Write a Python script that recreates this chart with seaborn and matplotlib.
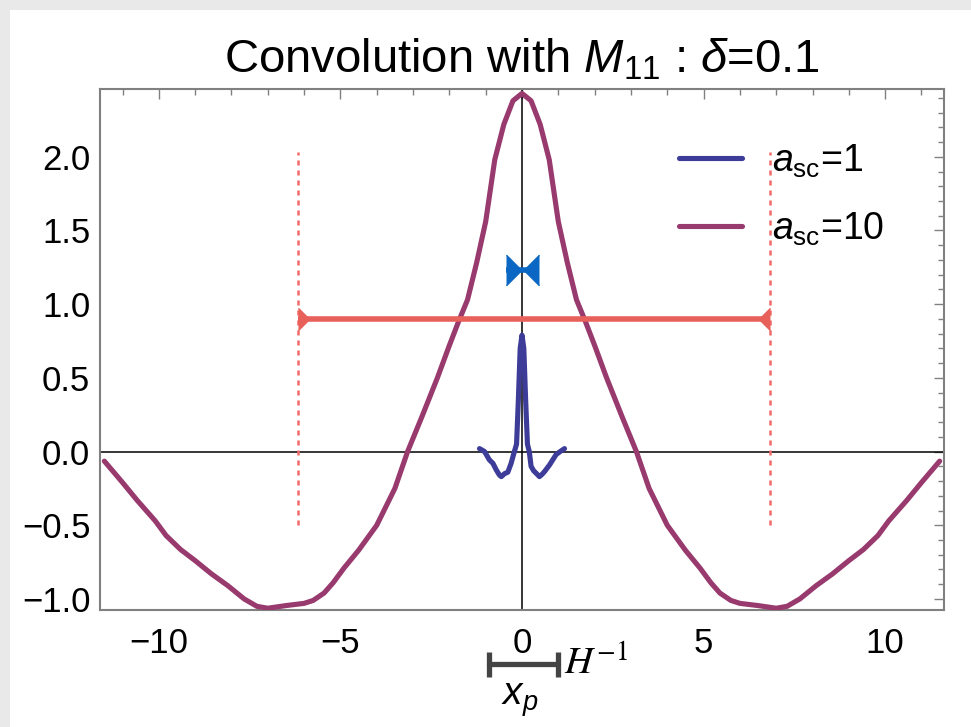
import numpy as np
import pandas as pd
import matplotlib
matplotlib.use("Agg")
import matplotlib.pyplot as plt
import seaborn as sns
from matplotlib.patches import Rectangle
from matplotlib.ticker import MultipleLocator

# curve for a_sc = 10
x_10 = [-11.5, -11.0, -10.6, -10.1, -9.8, -9.4, -9.0, -8.55, -8.1, -7.65, -7.3, -7.0, -6.5,
        -6.0, -5.75, -5.45, -5.2, -4.9, -4.5, -4.0, -3.5, -3.15, -2.75, -2.33, -2.0, -1.75,
        -1.5, -1.25, -1.0, -0.75, -0.5, -0.25, 0.0,
        0.25, 0.5, 0.75, 1.0, 1.25, 1.5, 1.75, 2.0, 2.33, 2.75, 3.15, 3.5, 4.0, 4.5, 4.9,
        5.2, 5.45, 5.75, 6.0, 6.5, 7.0, 7.3, 7.65, 8.1, 8.55, 9.0, 9.4, 9.8, 10.1, 10.6,
        11.0, 11.5]
y_10 = [-0.065, -0.21, -0.33, -0.47, -0.57, -0.665, -0.74, -0.83, -0.91, -1.0, -1.05, -1.063,
        -1.045, -1.03, -1.01, -0.96, -0.89, -0.79, -0.67, -0.5, -0.25, 0.0, 0.24, 0.5, 0.72,
        0.88, 1.03, 1.28, 1.56, 1.98, 2.22, 2.38, 2.43,
        2.38, 2.22, 1.98, 1.56, 1.28, 1.03, 0.88, 0.72, 0.5, 0.24, 0.0, -0.25, -0.5, -0.67,
        -0.79, -0.89, -0.96, -1.01, -1.03, -1.045, -1.063, -1.05, -1.0, -0.91, -0.83, -0.74,
        -0.665, -0.57, -0.47, -0.33, -0.21, -0.065]

# curve for a_sc = 1
x_1 = [-1.17, -1.03, -0.9, -0.8, -0.71, -0.62, -0.57, -0.48, -0.39, -0.3, -0.21, -0.15, -0.1,
       -0.05, 0.0, 0.05, 0.1, 0.15, 0.2, 0.25, 0.32, 0.39, 0.48, 0.55, 0.62, 0.76, 0.94, 1.05, 1.17]
y_1 = [0.02, 0.0, -0.056, -0.08, -0.124, -0.16, -0.17, -0.15, -0.14, -0.08, 0.0, 0.05, 0.35,
       0.7, 0.79, 0.7, 0.35, 0.05, 0.0, -0.10, -0.13, -0.147, -0.17, -0.155, -0.136, -0.09,
       -0.02, 0.0, 0.02]

# width bars
red_bar = [-6.16, 6.82]
red_y = 0.9
red_dot_y = [-0.5, 2.03]
blue_bar = [-0.435, 0.46]
blue_y = 1.23
scale_bar = [-0.9, 1.0]
scale_y = -1.44

df = pd.concat([
    pd.DataFrame({"x": x_1, "y": y_1, "a": r"$a_{\rm sc}$=1"}),
    pd.DataFrame({"x": x_10, "y": y_10, "a": r"$a_{\rm sc}$=10"}),
])

sns.set_theme(style="white")
plt.rcParams["font.family"] = ["Liberation Sans", "DejaVu Sans"]
plt.rcParams["mathtext.fontset"] = "custom"
plt.rcParams["mathtext.rm"] = "Liberation Sans"
plt.rcParams["mathtext.it"] = "Liberation Sans:italic"
plt.rcParams["text.color"] = "black"

fig = plt.figure(figsize=(9.71, 7.27), dpi=100, facecolor="#e9e9e9")
fig.patches.append(Rectangle((10 / 971, 0), 1, 1 - 10 / 727, transform=fig.transFigure,
                             facecolor="white", edgecolor="none", zorder=-10))
ax = fig.add_axes([100 / 971, 1 - 610 / 727, 844 / 971, 521 / 727])
ax.set_zorder(1)

# axes through origin
ax.axhline(0, color="black", lw=1.1, zorder=1)
ax.axvline(0, color="black", lw=1.1, zorder=1)

sns.lineplot(data=df, x="x", y="y", hue="a", palette=["#3d3d99", "#983a6e"],
             estimator=None, sort=False, lw=3.7, ax=ax, zorder=3)
for ln in ax.lines[2:]:
    ln.set_solid_joinstyle("round")

# red width marker
red = "#e8605a"
ax.plot(red_bar, [red_y, red_y], color=red, lw=4, zorder=4, solid_capstyle="butt")
ax.plot(red_bar[0], red_y, marker=[(0, -1), (1, 0), (0, 1)], ms=16, color=red, zorder=4)
ax.plot(red_bar[1], red_y, marker=[(0, -1), (-1, 0), (0, 1)], ms=16, color=red, zorder=4)
for xv in red_bar:
    ax.plot([xv, xv], red_dot_y, color="#f06a66", lw=1.8, ls=(0, (2, 2)), zorder=2)

# blue width marker
blue = "#0a68c4"
ax.plot(blue_bar, [blue_y, blue_y], color=blue, lw=4, zorder=4, solid_capstyle="butt")
ax.plot(blue_bar[0], blue_y, marker=[(0, -1), (1, 0), (0, 1)], ms=22, color=blue, zorder=4)
ax.plot(blue_bar[1], blue_y, marker=[(0, -1), (-1, 0), (0, 1)], ms=22, color=blue, zorder=4)

# scale bar below the axis
ax.plot(scale_bar, [scale_y, scale_y], color="#444444", lw=3.8, marker="|", ms=18, mew=3.8,
        clip_on=False)
ax.text(1.17, scale_y, r"$H^{-1}$", fontsize=28, math_fontfamily="stix", ha="left",
        va="center", color="black")
ax.text(-0.07, -1.69, r"$x_p$", fontsize=28, ha="center", va="center", color="black")

ax.set_xlim(-11.62, 11.62)
ax.set_ylim(-1.075, 2.46)
ax.xaxis.set_major_locator(MultipleLocator(5))
ax.xaxis.set_minor_locator(MultipleLocator(1))
ax.yaxis.set_major_locator(MultipleLocator(0.5))
ax.yaxis.set_minor_locator(MultipleLocator(0.1))
ax.tick_params(which="both", direction="in", top=True, right=True, color="#808080",
               width=1, labelsize=25, labelcolor="black")
ax.tick_params(axis="x", which="major", pad=12)
ax.tick_params(axis="y", which="major", pad=7)
ax.tick_params(which="major", length=7)
ax.tick_params(which="minor", length=4)
for s in ax.spines.values():
    s.set_color("#808080")
    s.set_linewidth(1.5)
ax.set_xlabel("")
ax.set_ylabel("")
ax.set_title(r"Convolution with $M_{11}$ : $\delta$=0.1", fontsize=34, pad=12, color="black")

ax.legend(loc="upper left", bbox_to_anchor=(0.646, 0.962), frameon=False, fontsize=27,
          handlelength=1.68, handletextpad=0.8, labelspacing=0.82)

fig.savefig("out.png", dpi=100, facecolor=fig.get_facecolor())
